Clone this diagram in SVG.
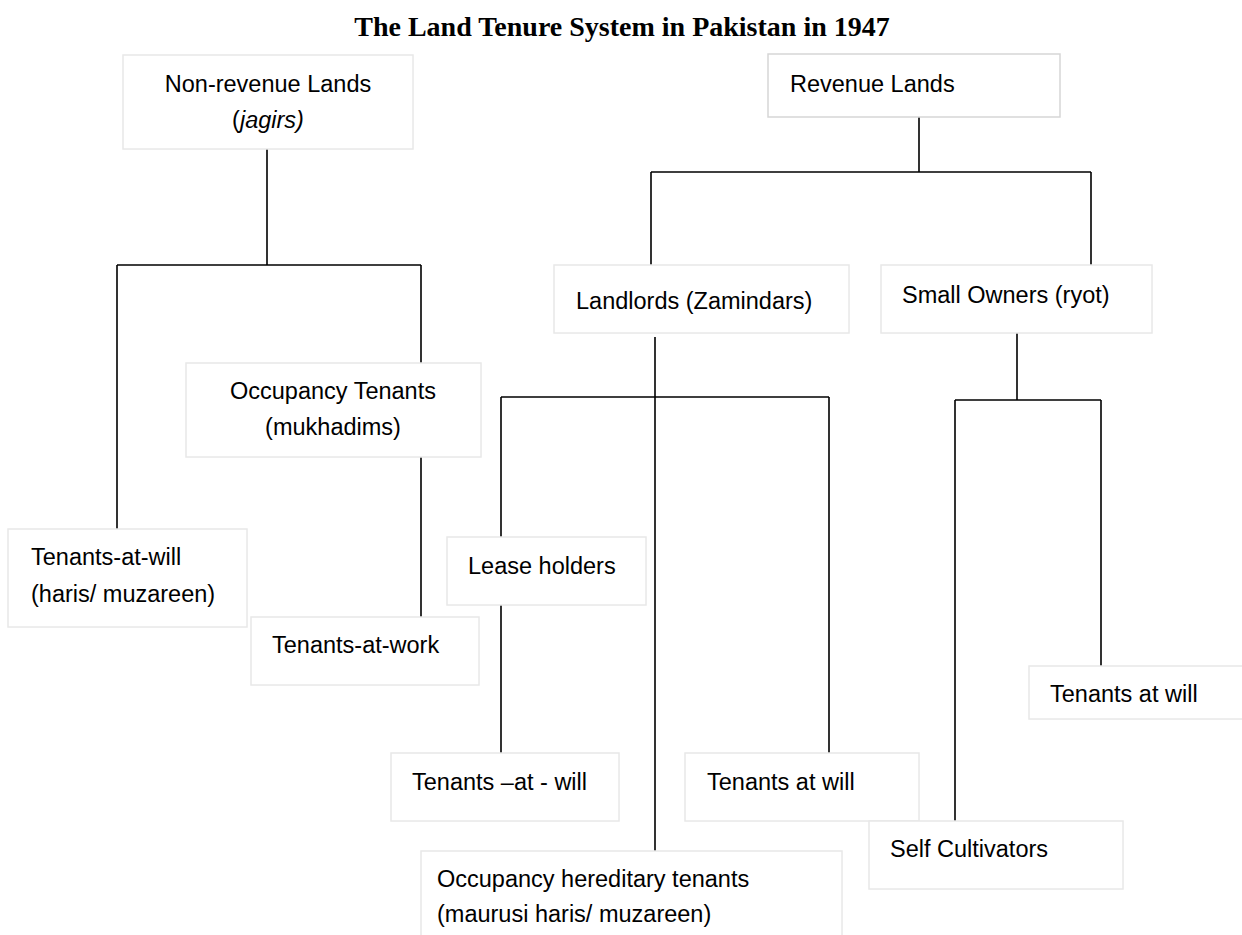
<svg xmlns="http://www.w3.org/2000/svg" width="1242" height="935" viewBox="0 0 1242 935">
<style>
.box{fill:#fff;stroke:#e8e8e8;stroke-width:1.5}
.box2{fill:#fff;stroke:#d6d6d6;stroke-width:1.5}
.t{font-family:"Liberation Sans",Arial,sans-serif;font-size:23.5px;fill:#000}
.c{text-anchor:middle}
.title{font-family:"Liberation Serif","Times New Roman",serif;font-weight:bold;font-size:28px;fill:#000;text-anchor:middle}
.ln{stroke:#000;stroke-width:1.6;fill:none}
</style>
<rect width="1242" height="935" fill="#fff"/>
<text class="title" x="622" y="36">The Land Tenure System in Pakistan in 1947</text>

<g id="connectors">
<path class="ln" d="M267 149V265M117 265H421M117 265V529M421 265V363M421 457V617"/>
<path class="ln" d="M919 117V172M651 172H1091M651 172V265M1091 172V265"/>
<path class="ln" d="M655 337V851M501 397H829M501 397V537M501 605V753M829 397V753"/>
<path class="ln" d="M1017 333V400M955 400H1101M955 400V821M1101 400V666"/>
</g>

<g id="n-nonrevenue">
<rect class="box" x="123" y="55" width="290" height="94"/>
<text class="t c" x="268" y="92">Non-revenue Lands</text>
<text class="t c" x="268" y="128">(<tspan font-style="italic">jagirs)</tspan></text>
</g>
<g id="n-revenue">
<rect class="box2" x="768" y="54" width="292" height="63"/>
<text class="t" x="790" y="92">Revenue Lands</text>
</g>
<g id="n-landlords">
<rect class="box" x="554" y="265" width="295" height="68"/>
<text class="t" x="576" y="309">Landlords (Zamindars)</text>
</g>
<g id="n-smallowners">
<rect class="box" x="881" y="265" width="271" height="68"/>
<text class="t" x="902" y="303">Small Owners (ryot)</text>
</g>
<g id="n-occupancy">
<rect class="box" x="186" y="363" width="295" height="94"/>
<text class="t c" x="333" y="399">Occupancy Tenants</text>
<text class="t c" x="333" y="435">(mukhadims)</text>
</g>
<g id="n-tenants-will-left">
<rect class="box" x="8" y="529" width="239" height="98"/>
<text class="t" x="31" y="565">Tenants-at-will</text>
<text class="t" x="31" y="602">(haris/ muzareen)</text>
</g>
<g id="n-tenants-work">
<rect class="box" x="251" y="617" width="228" height="68"/>
<text class="t" x="272" y="653">Tenants-at-work</text>
</g>
<g id="n-lease">
<rect class="box" x="447" y="537" width="199" height="68"/>
<text class="t" x="468" y="574">Lease holders</text>
</g>
<g id="n-tenants-at-will-a">
<rect class="box" x="391" y="753" width="228" height="68"/>
<text class="t" x="412" y="790">Tenants –at - will</text>
</g>
<g id="n-tenants-at-will-b">
<rect class="box" x="685" y="753" width="234" height="68"/>
<text class="t" x="707" y="790">Tenants at will</text>
</g>
<g id="n-occ-hereditary">
<rect class="box" x="421" y="851" width="421" height="100"/>
<text class="t" x="437" y="887">Occupancy hereditary tenants</text>
<text class="t" x="437" y="922">(maurusi haris/ muzareen)</text>
</g>
<g id="n-self">
<rect class="box" x="869" y="821" width="254" height="68"/>
<text class="t" x="890" y="857">Self Cultivators</text>
</g>
<g id="n-tenants-at-will-c">
<rect class="box" x="1029" y="666" width="230" height="53"/>
<text class="t" x="1050" y="702">Tenants at will</text>
</g>
</svg>
